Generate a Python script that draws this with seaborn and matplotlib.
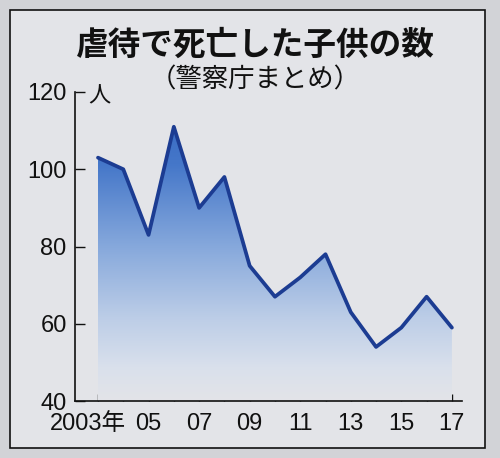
import numpy as np
import pandas as pd
import matplotlib
matplotlib.use('Agg')
import matplotlib.pyplot as plt
import matplotlib.transforms as mtransforms
import seaborn as sns
from matplotlib.colors import LinearSegmentedColormap
from matplotlib.patches import Rectangle

# ---- data ----
years = [2003, 2004, 2005, 2006, 2007, 2008, 2009, 2010, 2011, 2012, 2013, 2014, 2015, 2016, 2017]
deaths = [103, 100, 83, 111, 90, 98, 75, 67, 72, 78, 63, 54, 59, 67, 59]
ytick_values = [40, 60, 80, 100, 120]
xtick_labels = ['2003年', '05', '07', '09', '11', '13', '15', '17']
title = '虐待で死亡した子供の数'
subtitle = '（警察庁まとめ）'
unit = '人'

sns.set_theme(style='white')
plt.rcParams['font.family'] = ['Liberation Sans', 'Noto Sans CJK JP']

W, H = 500, 458
fig = plt.figure(figsize=(W / 100, H / 100), dpi=100)
fig.patch.set_facecolor('#d2d3d7')
fig.patches.append(Rectangle((10 / W, 1 - 448 / H), (485 - 10) / W, (448 - 10) / H,
                             transform=fig.transFigure, facecolor='#e3e4e8',
                             edgecolor='#111111', lw=1.2, zorder=-10))

ax = fig.add_axes([75 / W, 1 - 401 / H, (462 - 75) / W, (401 - 92) / H])
ax.set_facecolor('none')
ax.set_zorder(1)

df = pd.DataFrame({'year': years, 'deaths': deaths})
sns.lineplot(data=df, x='year', y='deaths', ax=ax, color='#1c3c92', lw=2.7, zorder=3)

poly = ax.fill_between(years, deaths, 40, color='none', lw=0)
cmap = LinearSegmentedColormap.from_list('g', [
    (0.0, '#e3e4e8'), (0.12, '#d9e0ec'), (0.3, '#bccde7'),
    (0.55, '#87a9dc'), (0.85, '#4577c9'), (1.0, '#3a6cc4')])
grad = np.linspace(0, 1, 256).reshape(-1, 1)
im = ax.imshow(grad, extent=[2002, 2018, 40, 112], origin='lower', aspect='auto',
               cmap=cmap, zorder=2)
im.set_clip_path(poly.get_paths()[0], transform=ax.transData)

ax.set_xlim(2002.09, 2017.4)
ax.set_ylim(40, 120)

full_labels = []
j = 0
for i, y in enumerate(years):
    if i % 2 == 0:
        full_labels.append(xtick_labels[j]); j += 1
    else:
        full_labels.append('')
ax.set_xticks(years, labels=full_labels)
ax.set_yticks(ytick_values, labels=[str(v) for v in ytick_values])
ax.set_xlabel('')
ax.set_ylabel('')

for s in ['top', 'right']:
    ax.spines[s].set_visible(False)
for s in ['left', 'bottom']:
    ax.spines[s].set_color('#111111')
    ax.spines[s].set_linewidth(1.2)

ax.tick_params(axis='x', direction='in', length=5, width=1, color='#111111',
               labelsize=17, pad=9, labelcolor='#111111', bottom=True)
ax.tick_params(axis='y', direction='in', length=7, width=1, color='#111111',
               labelsize=17, pad=6, labelcolor='#111111', left=True)

lab0 = ax.get_xticklabels()[0]
lab0.set_transform(lab0.get_transform() +
                   mtransforms.ScaledTranslation(-10 / 100, 0, fig.dpi_scale_trans))

fig.text(255 / W, 1 - 45 / H, title, ha='center', va='center', fontsize=23.5,
         fontweight='bold', family=['Noto Sans CJK JP'], color='#111111')
fig.text(255 / W, 1 - 80 / H, subtitle, ha='center', va='center', fontsize=19,
         family=['Noto Sans CJK JP'], color='#111111')
fig.text(88 / W, 1 - 96 / H, unit, ha='left', va='center', fontsize=16,
         family=['Noto Sans CJK JP'], color='#111111')

fig.savefig('out.png', dpi=100)
